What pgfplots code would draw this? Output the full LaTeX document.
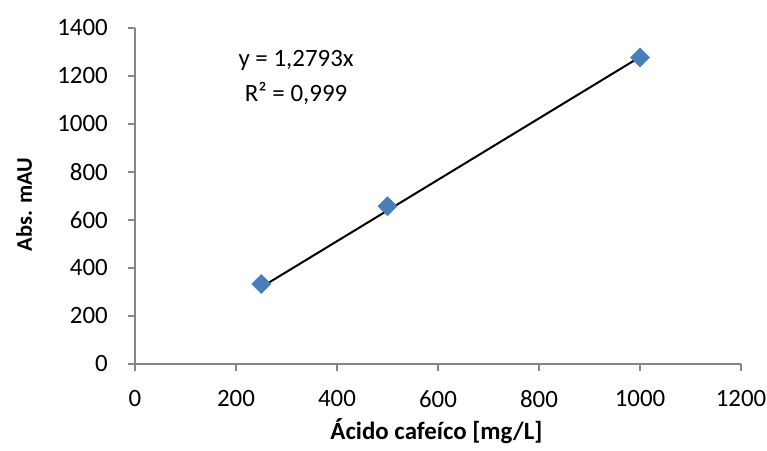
\documentclass[border=0pt]{standalone}
\usepackage{pgfplots}
\pgfplotsset{compat=1.18}
\usepackage{fontspec}
\setmainfont{Carlito}
\definecolor{mk}{HTML}{4A7EBB}
\definecolor{ax}{HTML}{868686}
\begin{document}
\begin{tikzpicture}
\begin{axis}[
  scale only axis, width=606bp, height=336bp,
  xmin=0, xmax=1200, ymin=0, ymax=1400,
  xtick={0,200,...,1200}, ytick={0,200,...,1400},
  axis x line*=bottom, axis y line*=left,
  tick align=outside, major tick length=7bp,
  axis line style={ax, line width=1.3bp}, tick style={ax, line width=1.3bp},
  tick label style={font=\fontsize{25}{28}\selectfont, black, inner sep=0pt},
  xticklabel shift=19bp, yticklabel shift=20bp,
  /pgf/number format/assume math mode=true,
  /pgf/number format/1000 sep={},
  xlabel={Ácido cafeíco [mg/L]}, ylabel={Abs. mAU},
  xlabel style={font=\fontsize{25}{28}\selectfont\bfseries, at={(axis description cs:0.4975,-0.2262)}, anchor=base, inner sep=0pt},
  ylabel style={font=\fontsize{22.5}{24}\selectfont\bfseries, at={(axis description cs:-0.17,0.4747)}, anchor=base, inner sep=0pt},
  clip=false,
]
\addplot[black, line width=2bp] coordinates {(250,319.8) (1000,1279.3)};
\addplot[only marks, mark=square*, mark size=6.8bp, mark options={rotate=45, fill=mk, draw=mk}]
  coordinates {(250,333) (500,657) (1000,1277)};
\node[align=center, font=\fontsize{25}{35}\selectfont, inner sep=0pt] at (axis cs:319,1192) {y = 1,2793x\\R² = 0,999};
\coordinate (bl) at (axis description cs:-0.2228,-0.2589);
\coordinate (tr) at (axis description cs:1.0429,1.0833);
\end{axis}
\pgfresetboundingbox
\path[use as bounding box] (bl) rectangle (tr);
\end{tikzpicture}
\end{document}
